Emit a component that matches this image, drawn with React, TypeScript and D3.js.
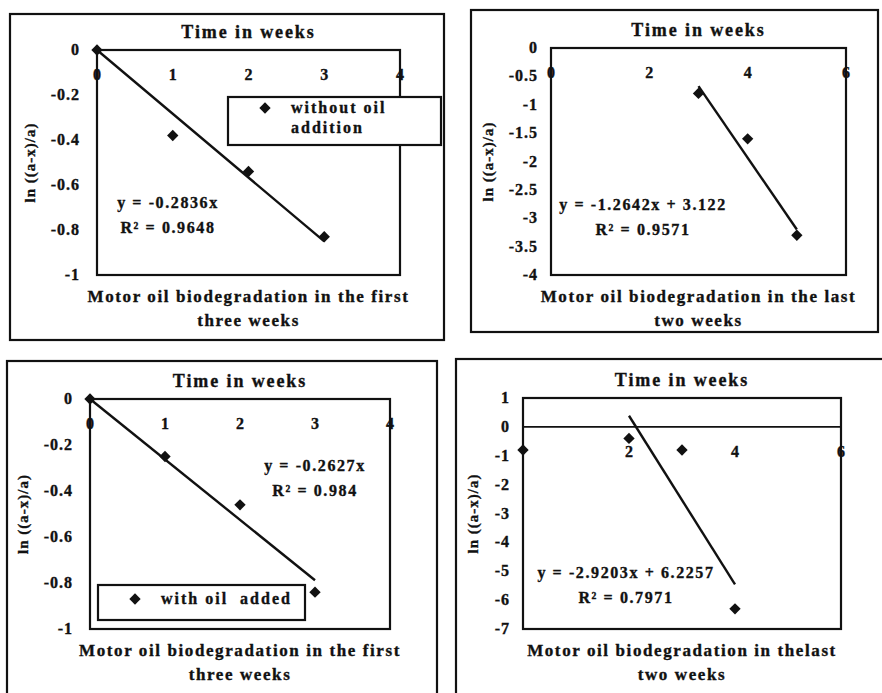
import * as d3 from 'd3';

// ---- data ----
const weeksFirst = [0, 1, 2, 3];
const lnWithoutFirst = [0, -0.38, -0.54, -0.83];
const weeksLast = [3, 4, 5];
const lnWithoutLast = [-0.8, -1.6, -3.3];
const lnWithFirst = [0, -0.25, -0.46, -0.84];
const weeksWithLast = [0, 2, 3, 4];
const lnWithLast = [-0.8, -0.4, -0.8, -6.3];

// trendline: [slope, intercept, xStart, xEnd]
const trendWithoutFirst = [-0.2836, 0, 0, 3];
const trendWithoutLast = [-1.2642, 3.122, 3, 5];
const trendWithFirst = [-0.2627, 0, 0, 3];
const trendWithLast = [-2.9203, 6.2257, 2, 4];

const xTicksFirst = [0, 1, 2, 3, 4];
const xTicksLast = [0, 2, 4, 6];
const yTicksFirst = [0, -0.2, -0.4, -0.6, -0.8, -1];
const yTicksLast = [0, -0.5, -1, -1.5, -2, -2.5, -3, -3.5, -4];
const yTicksWithLast = [1, 0, -1, -2, -3, -4, -5, -6, -7];

const FONT = '"Liberation Serif", "DejaVu Serif", serif';
const INK = '#111';

interface PanelProps {
    frame: [number, number, number, number];
    plot: [number, number, number, number];
    xDomain: [number, number];
    yDomain: [number, number];
    xTicks: number[];
    yTicks: number[];
    xs: number[];
    ys: number[];
    trend: number[];
    eq: [string, string];
    eqPos: [number, number];
    caption: [string, string];
    yLabelGap: number;
    yTitleX: number;
    legend?: { box: [number, number, number, number]; lines: string[]; dy: number };
    hideZeroLabel?: boolean;
}

function Panel(p: PanelProps) {
    const [l, t, r, b] = p.plot;
    const x = d3.scaleLinear().domain(p.xDomain).range([l, r]);
    const y = d3.scaleLinear().domain(p.yDomain).range([t, b]);
    const cx = (l + r) / 2;
    // square diamond (rotated square) like the Excel marker
    const diamond = d3.symbol(d3.symbolSquare, 64)() as string;
    const [m, c, x0, x1] = p.trend;
    const line = d3.line<number>().x(d => x(d)).y(d => y(m * d + c));
    const fmt = (v: number) => (v === 0 ? '0' : String(v));
    const [fx0, fy0, fx1, fy1] = p.frame;

    return (
        <g fontFamily={FONT} fontWeight="bold" fill={INK}>
            <rect x={fx0} y={fy0} width={fx1 - fx0} height={fy1 - fy0} fill="none" stroke={INK} strokeWidth={2.2} />
            <g stroke={INK} strokeWidth={0.35}>
                <text x={cx} y={t - 12} textAnchor="middle" fontSize={18} letterSpacing={1.9}>Time in weeks</text>
                {p.xTicks.map(v => (
                    <text key={'x' + v} x={x(v)} y={y(0) + 30} textAnchor="middle" fontSize={16}>
                        {v === 0 && p.hideZeroLabel ? '' : fmt(v)}
                    </text>
                ))}
                {p.yTicks.map(v => (
                    <text key={'y' + v} x={l - p.yLabelGap} y={y(v) + 5} textAnchor="end" fontSize={16} letterSpacing={1}>{fmt(v)}</text>
                ))}
                <text transform={`translate(${p.yTitleX},${(t + b) / 2}) rotate(-90)`} textAnchor="middle"
                    fontSize={15} letterSpacing={1}>
                    ln ((a-x)/a)
                </text>
                <text x={p.eqPos[0]} y={p.eqPos[1]} textAnchor="middle" fontSize={16} letterSpacing={1.6}>{p.eq[0]}</text>
                <text x={p.eqPos[0]} y={p.eqPos[1] + 25} textAnchor="middle" fontSize={16} letterSpacing={1.6}>{p.eq[1]}</text>
                <text x={cx} y={b + 27} textAnchor="middle" fontSize={17} letterSpacing={1.6}>{p.caption[0]}</text>
                <text x={cx} y={b + 51} textAnchor="middle" fontSize={17} letterSpacing={1.6}>{p.caption[1]}</text>
            </g>
            <rect x={l} y={t} width={r - l} height={b - t} fill="none" stroke={INK} strokeWidth={2.2} />
            {/* x axis sits at y = 0 */}
            <line x1={l} x2={r} y1={y(0)} y2={y(0)} stroke={INK} strokeWidth={1.8} />
            <path d={line([x0, x1]) as string} fill="none" stroke={INK} strokeWidth={2.4} />
            {p.xs.map((v, i) => (
                <path key={'p' + i} d={diamond} transform={`translate(${x(v)},${y(p.ys[i])}) rotate(45)`} fill={INK} />
            ))}
            {p.legend && (
                <g>
                    <rect x={p.legend.box[0]} y={p.legend.box[1]} width={p.legend.box[2] - p.legend.box[0]}
                        height={p.legend.box[3] - p.legend.box[1]} fill="#fff" stroke={INK} strokeWidth={2.2} />
                    <path d={diamond} transform={`translate(${p.legend.box[0] + 37},${p.legend.box[1] + p.legend.dy - 5}) rotate(45)`} fill={INK} />
                    {p.legend.lines.map((s, i) => (
                        <text key={s} x={p.legend!.box[0] + 63} y={p.legend!.box[1] + p.legend!.dy + i * 20}
                            fontSize={16} letterSpacing={2} stroke={INK} strokeWidth={0.35}
                            style={{ whiteSpace: 'pre' }}>{s}</text>
                    ))}
                </g>
            )}
        </g>
    );
}

export default function App() {
    return (
        <svg width={882} height={693} viewBox="0 0 882 693"
            style={{ position: 'absolute', left: 0, top: 0, background: '#fff' }}>
            <Panel frame={[10, 14, 444, 340]} plot={[97, 50, 400, 275]} xDomain={[0, 4]} yDomain={[0, -1]}
                xTicks={xTicksFirst} yTicks={yTicksFirst} xs={weeksFirst} ys={lnWithoutFirst}
                trend={trendWithoutFirst} eq={['y = -0.2836x', 'R\u00B2 = 0.9648']} eqPos={[168, 208]}
                caption={['Motor oil biodegradation in the first', 'three weeks']}
                yLabelGap={17} yTitleX={35}
                legend={{ box: [228, 97, 441, 145], lines: ['without oil', 'addition'], dy: 16 }} />
            <Panel frame={[471, 10, 878, 332]} plot={[551, 48, 846, 275]} xDomain={[0, 6]} yDomain={[0, -4]}
                xTicks={xTicksLast} yTicks={yTicksLast} xs={weeksLast} ys={lnWithoutLast}
                trend={trendWithoutLast} eq={['y = -1.2642x + 3.122', 'R\u00B2 = 0.9571']} eqPos={[643, 210]}
                caption={['Motor oil biodegradation in the last', 'two weeks']}
                yLabelGap={13} yTitleX={493} />
            <Panel frame={[7, 361, 437, 720]} plot={[90, 399, 390, 629]} xDomain={[0, 4]} yDomain={[0, -1]}
                xTicks={xTicksFirst} yTicks={yTicksFirst} xs={weeksFirst} ys={lnWithFirst}
                trend={trendWithFirst} eq={['y = -0.2627x', 'R\u00B2 = 0.984']} eqPos={[315, 471]}
                caption={['Motor oil biodegradation in the first', 'three weeks']}
                yLabelGap={17} yTitleX={28}
                legend={{ box: [98, 585, 305, 620], lines: ['with oil  added'], dy: 19 }} />
            <Panel frame={[456, 359, 900, 720]} plot={[523, 398, 841, 629]} xDomain={[0, 6]} yDomain={[1, -7]}
                xTicks={xTicksLast} yTicks={yTicksWithLast} xs={weeksWithLast} ys={lnWithLast}
                trend={trendWithLast} eq={['y = -2.9203x + 6.2257', 'R\u00B2 = 0.7971']} eqPos={[626, 578]}
                caption={['Motor oil biodegradation in thelast', 'two weeks']}
                yLabelGap={13} yTitleX={478} hideZeroLabel />
        </svg>
    );
}
